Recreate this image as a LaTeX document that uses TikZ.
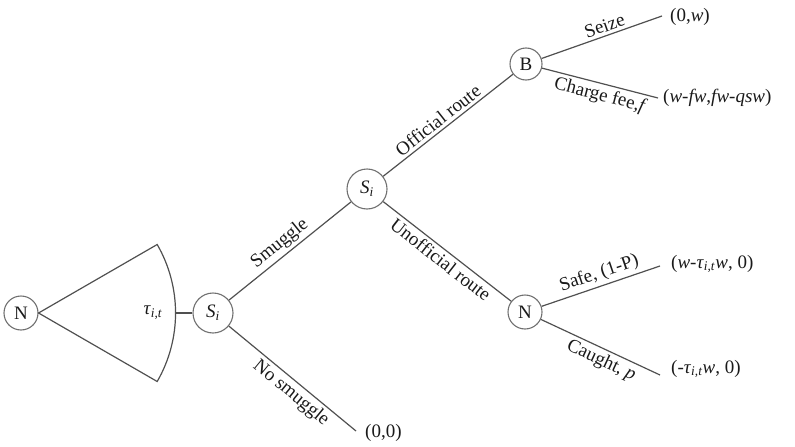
\documentclass[tikz,border=0pt]{standalone}
\usepackage{fontspec}
\setmainfont{Liberation Serif}
\definecolor{edgecol}{HTML}{505050}
\definecolor{circcol}{HTML}{707070}
\definecolor{txtcol}{HTML}{1A1A1A}
\newcommand{\tauit}{\textit{τ}\textsubscript{\textit{i,t}}}
\newcommand{\Si}{\textit{S}\textsubscript{\textit{i}}}
\begin{document}
\begin{tikzpicture}[x=1pt,y=-1pt,
  every node/.style={text=txtcol,font=\fontsize{19}{22}\selectfont},
  dnode/.style={circle,draw=circcol,line width=1.1pt,inner sep=0pt,minimum size=#1},
  dnode/.default=34pt,
  edge/.style={draw=edgecol,line width=1.2pt},
  elab/.style={sloped,inner sep=3pt},
  term/.style={anchor=west,inner sep=0pt}]
\useasboundingbox (0,0) rectangle (795,447);
% decision nodes
\node[dnode] (n1) at (21,313) {N};
\node[dnode=40pt] (s1) at (213,313) {\Si};
\node[dnode=40pt] (s2) at (367,189) {\Si};
\node[dnode=32pt] (b) at (526,64) {B};
\node[dnode] (n2) at (525,312) {N};
% wedge
\path (n1.east) ++(137,0) coordinate (wmid);
\draw[edge] (n1.east) -- ++(-30:137) arc[start angle=-30,end angle=30,radius=137] -- cycle;
\node (tau) at (153,313) {\tauit};
% terminal ends
\coordinate (e00) at (356,431);
\coordinate (eseize) at (662,16);
\coordinate (efee) at (658,98);
\coordinate (esafe) at (660,266);
\coordinate (ecaught) at (660,375);
\node[term] (t00) at (365,433) {(0,0)};
\node[term] (tseize) at (670,17) {(0,\textit{w})};
\node[term] (tfee) at (663,98) {(\textit{w-fw},\textit{fw-qsw})};
\node[term] (tsafe) at (671,264) {(\textit{w}-\tauit\textit{w}, 0)};
\node[term] (tcaught) at (671,369) {(-\tauit\textit{w}, 0)};
% edges
\draw[edge] (wmid) -- (s1);
\draw[edge] (s1) -- node[elab,above,pos=0.48] {Smuggle} (s2);
\draw[edge] (s1) -- node[elab,below,pos=0.55] {No smuggle} (e00);
\draw[edge] (s2) -- node[elab,above,pos=0.47] {Official route} (b);
\draw[edge] (s2) -- node[elab,below,pos=0.5] {Unofficial route} (n2);
\draw[edge] (b) -- node[elab,above,pos=0.55] {Seize} (eseize);
\draw[edge] (b) -- node[elab,below,pos=0.53] {Charge fee,\textit{f}} (efee);
\draw[edge] (n2) -- node[elab,above,pos=0.52] {Safe, (1-P)} (esafe);
\draw[edge] (n2) -- node[elab,below,pos=0.55] {Caught, \textit{p}} (ecaught);
\end{tikzpicture}
\end{document}
